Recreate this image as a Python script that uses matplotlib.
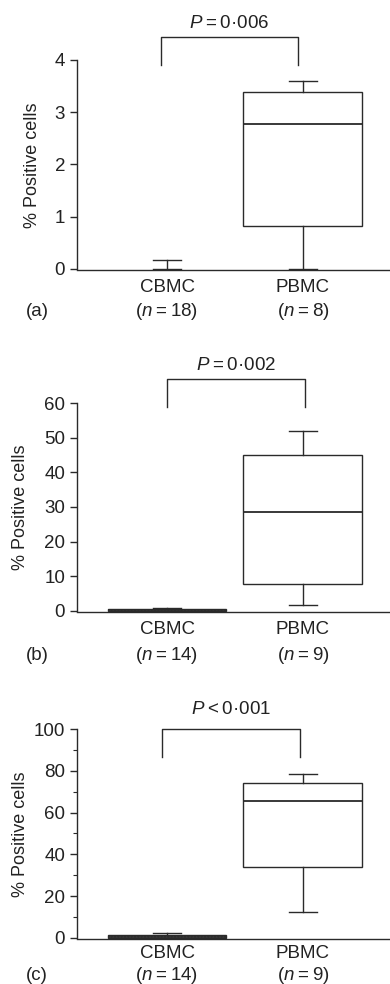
import matplotlib
matplotlib.use("Agg")
import matplotlib.pyplot as plt
from matplotlib.ticker import MultipleLocator

plt.rcParams['font.family'] = ['Liberation Sans', 'DejaVu Sans']
plt.rcParams['mathtext.fontset'] = 'custom'
plt.rcParams['mathtext.it'] = 'Liberation Sans:italic'
plt.rcParams['mathtext.rm'] = 'Liberation Sans'

groups = ['CBMC', 'PBMC']
panel_tags = ['(a)', '(b)', '(c)']
n_a = [18, 8]
n_b = [14, 9]
n_c = [14, 9]

whislo_a = [0.0, 0.0]
q1_a = [0.0, 0.82]
med_a = [0.0, 2.78]
q3_a = [0.0, 3.38]
whishi_a = [0.17, 3.6]

whislo_b = [0.0, 1.6]
q1_b = [0.1, 7.8]
med_b = [0.4, 28.5]
q3_b = [0.7, 45.0]
whishi_b = [0.9, 52.0]

whislo_c = [0.0, 12.5]
q1_c = [0.2, 34.0]
med_c = [0.6, 65.5]
q3_c = [1.2, 74.0]
whishi_c = [2.5, 78.5]

p_texts = ['$P$\u2009=\u20090\u00b7006', '$P$\u2009=\u20090\u00b7002', '$P$\u2009<\u20090\u00b7001']
y_ticks_a = [0, 1, 2, 3, 4]
y_ticks_b = [0, 10, 20, 30, 40, 50, 60]
y_ticks_c = [0, 20, 40, 60, 80, 100]

LC = '#2a2a2a'
TC = '#222222'
FS = 13.5
W, H = 390, 984
fig = plt.figure(figsize=(W / 100, H / 100), dpi=100)

def px_axes(top_px, bottom_px, left_px=77, right_px=390):
    return fig.add_axes([left_px / W, 1 - bottom_px / H,
                         (right_px - left_px) / W, (bottom_px - top_px) / H])

panels = [
    dict(ax=px_axes(60, 270), lo=whislo_a, q1=q1_a, med=med_a, q3=q3_a, hi=whishi_a, n=n_a,
         ticks=y_ticks_a, ylim=(-0.02, 4), minor=None, bracket=(0.956, 1.963, 3.90, 4.44, 4.70),
         lab_x=-0.115, off=(17, 41)),
    dict(ax=px_axes(403, 612), lo=whislo_b, q1=q1_b, med=med_b, q3=q3_b, hi=whishi_b, n=n_b,
         ticks=y_ticks_b, ylim=(-0.3, 60), minor=None, bracket=(1.0, 2.015, 58.9, 66.9, 70.9),
         lab_x=-0.153, off=(18, 43)),
    dict(ax=px_axes(729, 939), lo=whislo_c, q1=q1_c, med=med_c, q3=q3_c, hi=whishi_c, n=n_c,
         ticks=y_ticks_c, ylim=(-0.5, 100), minor=10, bracket=(0.963, 1.978, 86.7, 100, 109.5),
         lab_x=-0.153, off=(14, 36)),
]

for i, p in enumerate(panels):
    ax = p['ax']
    stats = []
    for j, g in enumerate(groups):
        stats.append(dict(whislo=p['lo'][j], q1=p['q1'][j], med=p['med'][j],
                          q3=p['q3'][j], whishi=p['hi'][j], label=g))
    ax.bxp(stats, positions=[1, 2], widths=0.875, showfliers=False, patch_artist=True,
           boxprops=dict(facecolor='white', edgecolor=LC, linewidth=1.0),
           medianprops=dict(color=LC, linewidth=1.3),
           whiskerprops=dict(color=LC, linewidth=1.0),
           capprops=dict(color=LC, linewidth=1.0), capwidths=0.2)
    if i > 0:
        ax.patches[0].set_hatch('.....')
        ax.patches[0].set_facecolor('#bbbbbb')
    else:
        ax.patches[0].set_visible(False)
        ax.lines[4].set_visible(False)
    ax.set_xlim(0.338, 2.64)
    ax.set_ylim(*p['ylim'])
    ax.set_yticks(p['ticks'])
    if p['minor']:
        ax.yaxis.set_minor_locator(MultipleLocator(p['minor']))
        ax.tick_params(axis='y', which='minor', length=3, width=0.8, color=LC)
    ax.spines['top'].set_visible(False)
    ax.spines['right'].set_visible(False)
    ax.spines['left'].set_bounds(0, p['ticks'][-1])
    for s in ['left', 'bottom']:
        ax.spines[s].set_color(LC)
        ax.spines[s].set_linewidth(1.0)
    ax.set_xticks([])
    ax.tick_params(axis='y', which='major', length=5, width=1.0, color=LC,
                   labelsize=FS, labelcolor=TC, pad=3.5)
    ax.set_ylabel('% Positive cells', fontsize=13, color=TC)
    ax.yaxis.set_label_coords(p['lab_x'], 0.5)
    for j, g in enumerate(groups):
        ax.annotate(g, xy=(j + 1, 0), xycoords=('data', 'axes fraction'),
                    xytext=(0, -p['off'][0]), textcoords='offset pixels',
                    ha='center', va='center', fontsize=FS, color=TC)
        ax.annotate('($n$\u2009=\u2009%d)' % p['n'][j], xy=(j + 1, 0),
                    xycoords=('data', 'axes fraction'),
                    xytext=(0, -p['off'][1]), textcoords='offset pixels',
                    ha='center', va='center', fontsize=FS, color=TC)
    ax.annotate(panel_tags[i], xy=(0, 0), xycoords='axes fraction',
                xytext=(37 - 77, -p['off'][1]), textcoords='offset pixels',
                ha='center', va='center', fontsize=FS, color=TC)
    x0, x1, yb, yt, yt_text = p['bracket']
    ax.plot([x0, x0, x1, x1], [yb, yt, yt, yb], color=LC, linewidth=1.0, clip_on=False)
    ax.text((x0 + x1) / 2, yt_text, p_texts[i], ha='center', va='center',
            fontsize=FS, color=TC, clip_on=False)

fig.savefig('out.png', dpi=100)
